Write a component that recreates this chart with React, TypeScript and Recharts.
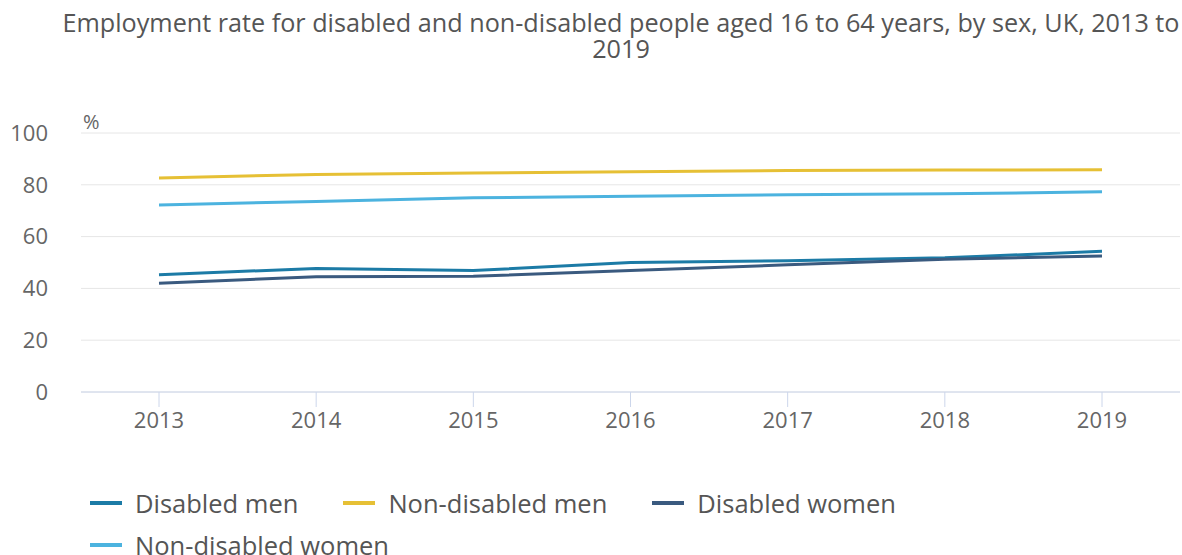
import { CartesianGrid, Legend, Line, LineChart, XAxis, YAxis } from "recharts";

const years = ["2013", "2014", "2015", "2016", "2017", "2018", "2019"];
const disabledMen = [45.3, 47.7, 46.9, 50.0, 50.7, 51.8, 54.3];
const nonDisabledMen = [82.6, 84.0, 84.6, 85.0, 85.5, 85.7, 85.8];
const disabledWomen = [42.0, 44.5, 44.7, 46.9, 49.1, 51.3, 52.5];
const nonDisabledWomen = [72.2, 73.6, 75.0, 75.6, 76.2, 76.5, 77.3];
const yTicks = [0, 20, 40, 60, 80, 100];

const series = [
  { key: "dm", name: "Disabled men", color: "#1c7ba6" },
  { key: "ndm", name: "Non-disabled men", color: "#e6c035" },
  { key: "dw", name: "Disabled women", color: "#3a5a7f" },
  { key: "ndw", name: "Non-disabled women", color: "#4cb3df" },
];

const data = years.map((year, i) => ({
  year,
  dm: disabledMen[i],
  ndm: nonDisabledMen[i],
  dw: disabledWomen[i],
  ndw: nonDisabledWomen[i],
}));

const font = "'Open Sans', sans-serif";

function renderLegend() {
  return (
    <div style={{ display: "flex", flexWrap: "wrap", width: 1092, height: 84, fontFamily: font }}>
      {series.map((s) => (
        <div key={s.key} style={{ display: "flex", alignItems: "center", height: 42, marginRight: 45 }}>
          <span style={{ width: 32, height: 4, background: s.color, marginRight: 13 }} />
          <span style={{ fontSize: 25.5, color: "#555", whiteSpace: "nowrap" }}>{s.name}</span>
        </div>
      ))}
    </div>
  );
}

export default function App() {
  return (
    <div style={{ position: "absolute", left: 0, top: 0, width: 1182, height: 555, background: "#fff", overflow: "hidden" }}>
      <div
        style={{
          position: "absolute",
          top: 9,
          left: 60,
          width: 1122,
          textAlign: "center",
          fontFamily: font,
          fontSize: 25.2,
          lineHeight: "26px",
          color: "#555",
          whiteSpace: "nowrap",
        }}
      >
        Employment rate for disabled and non-disabled people aged 16 to 64 years, by sex, UK, 2013 to
        <br />
        2019
      </div>
      <div style={{ position: "absolute", left: 83, top: 108, fontFamily: font, fontSize: 20, color: "#666" }}>%</div>
      <LineChart width={1182} height={555} data={data} margin={{ top: 133, right: 2, left: 0, bottom: 49 }}>
        <CartesianGrid stroke="#e6e6e6" vertical={false} />
        <XAxis
          dataKey="year"
          padding={{ left: 78, right: 78 }}
          stroke="#ccd6eb"
          tickSize={15}
          tickMargin={5}
          tick={{ fill: "#666", fontSize: 22, fontFamily: font }}
        />
        <YAxis
          domain={[0, 100]}
          ticks={yTicks}
          width={81}
          axisLine={false}
          tickLine={false}
          tickSize={0}
          tickMargin={33}
          tick={{ fill: "#666", fontSize: 22, fontFamily: font }}
        />
        {series.map((s) => (
          <Line
            key={s.key}
            type="linear"
            dataKey={s.key}
            name={s.name}
            stroke={s.color}
            strokeWidth={3}
            dot={false}
            isAnimationActive={false}
          />
        ))}
        <Legend content={renderLegend} wrapperStyle={{ top: 482, left: 90, bottom: "auto", width: 1092 }} />
      </LineChart>
    </div>
  );
}
